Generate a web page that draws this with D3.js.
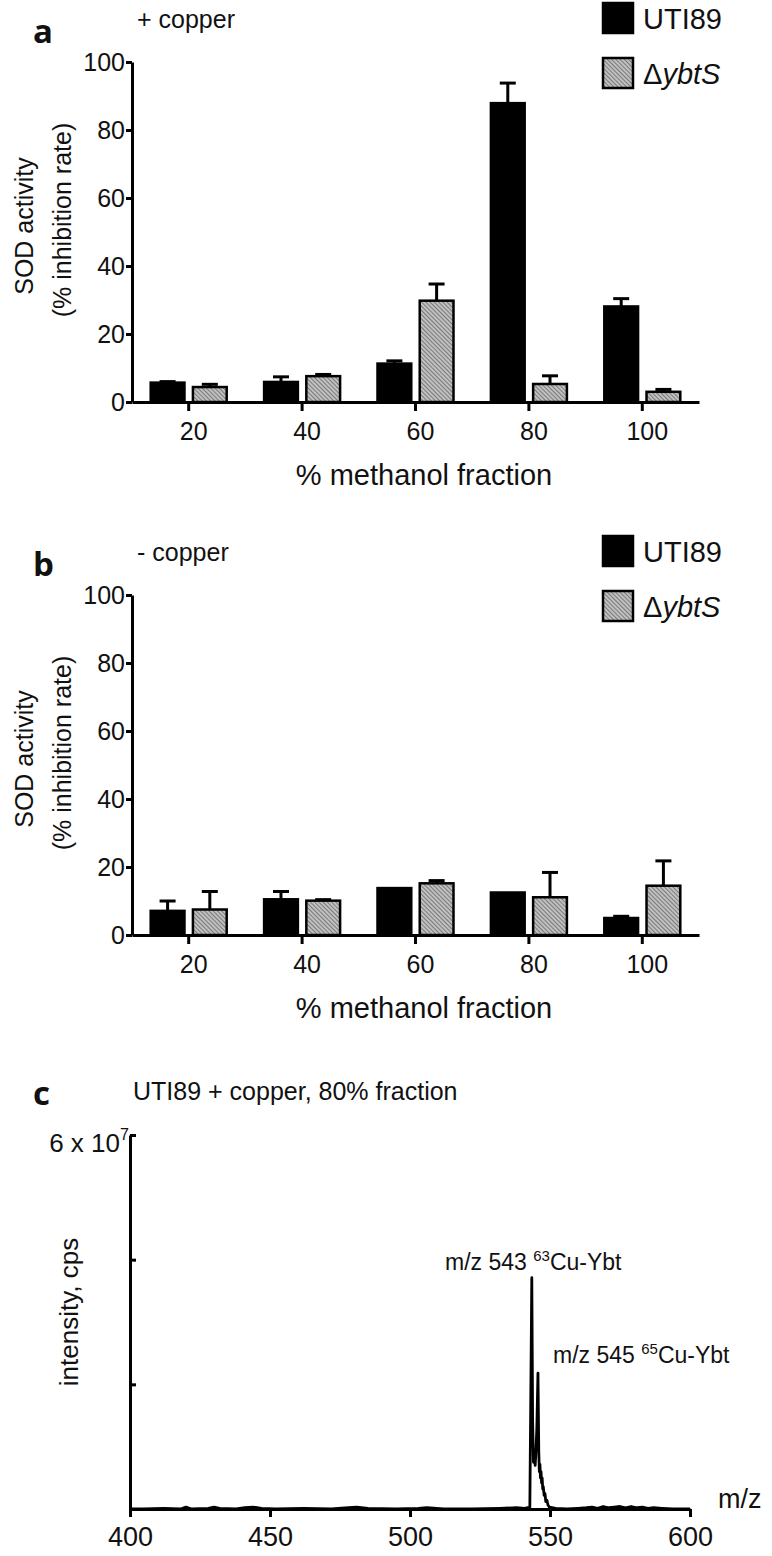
<!DOCTYPE html>
<html>
<head>
<meta charset="utf-8">
<script src="https://cdn.jsdelivr.net/npm/d3@7"></script>
<style>
  body { margin: 0; background: #fff; }
  text { font-family: "Liberation Sans", Arial, sans-serif; fill: #111; }
</style>
</head>
<body>
<script>
// data
var fractions = ['20', '40', '60', '80', '100'];
var strains = ['UTI89', 'ybtS'];

// panel a, + copper (% inhibition rate, mean and error)
var copperUTI89 = [5.7, 5.9, 11.3, 87.9, 28.1];
var copperUTI89Err = [0.3, 1.5, 0.8, 5.9, 2.3];
var copperYbtS = [4.4, 7.6, 29.8, 5.3, 3.0];
var copperYbtSErr = [0.8, 0.5, 4.9, 2.4, 0.7];

// panel b, - copper
var noCopperUTI89 = [7.1, 10.5, 13.8, 12.5, 5.0];
var noCopperUTI89Err = [2.9, 2.3, 0, 0, 0.5];
var noCopperYbtS = [7.5, 10.1, 15.2, 11.1, 14.5];
var noCopperYbtSErr = [5.3, 0.3, 0.8, 7.3, 7.3];

var yTicks = [0, 20, 40, 60, 80, 100];

// panel c, mass spectrum (intensity in units of 10^7 cps)
var spectrumMz = [400, 405, 412, 418, 420, 422, 428, 430, 432, 438, 441, 444, 447, 452, 462, 472, 478, 481, 485, 495, 503, 506, 512, 522, 532, 538, 541,
  542.8, 543.1, 543.5, 543.8, 544.1, 544.4, 544.7, 545.0, 545.3, 545.7, 546.0, 546.2, 546.4, 546.6, 546.8, 547.0, 547.2, 547.4, 547.6, 547.9, 548.2, 548.5, 548.9, 549.3, 549.8,
  552, 556, 560, 563, 565, 567, 569, 571, 573, 575, 577, 579, 581, 583, 585, 587, 590, 594, 600];
var spectrumIntensity = [0.0, 0.0, 0.01, 0.0, 0.03, 0.0, 0.01, 0.03, 0.01, 0.0, 0.02, 0.03, 0.01, 0.0, 0.01, 0.0, 0.02, 0.03, 0.01, 0.0, 0.01, 0.02, 0.0, 0.0, 0.01, 0.02, 0.01,
  0.03, 1.6, 3.71, 1.4, 0.75, 0.9, 0.7, 0.95, 1.3, 2.18, 0.9, 0.6, 0.72, 0.5, 0.6, 0.42, 0.5, 0.32, 0.36, 0.22, 0.25, 0.12, 0.14, 0.06, 0.03,
  0.01, 0.0, 0.01, 0.02, 0.03, 0.01, 0.04, 0.02, 0.03, 0.04, 0.02, 0.04, 0.02, 0.03, 0.01, 0.02, 0.01, 0.0, 0.0];
var mzTicks = [400, 450, 500, 550, 600];
var intensityTicks = [0, 2, 4, 6];

var svg = d3.select('body').append('svg')
  .attr('width', 772)
  .attr('height', 1556);

// fine hatched fill for the ybtS bars
var pat = svg.append('defs').append('pattern')
  .attr('id', 'hatch')
  .attr('patternUnits', 'userSpaceOnUse')
  .attr('width', 3).attr('height', 3)
  .attr('patternTransform', 'rotate(-45)');
pat.append('rect').attr('width', 3).attr('height', 3).attr('fill', '#c0c0c0');
pat.append('line').attr('x1', 0).attr('y1', 0).attr('x2', 0).attr('y2', 3)
  .attr('stroke', '#4a4a4a').attr('stroke-width', 1.2);

var fillFor = { UTI89: '#000', ybtS: 'url(#hatch)' };

function barPanel(top, letter, condition, uti, utiErr, ybt, ybtErr) {
  var g = svg.append('g').attr('transform', 'translate(0,' + top + ')');

  var x = d3.scaleBand().domain(fractions).range([132, 699]);
  var xSub = d3.scaleBand().domain(strains).range([0, 76]).paddingInner(0.2);
  var y = d3.scaleLinear().domain([0, 100]).range([402, 62]);

  var rows = [];
  fractions.forEach(function(f, i) {
    rows.push({ f: f, s: 'UTI89', v: uti[i], e: utiErr[i] });
    rows.push({ f: f, s: 'ybtS', v: ybt[i], e: ybtErr[i] });
  });
  var off = function(d) { return x(d.f) + x.bandwidth() / 2 - 38 + xSub(d.s); };

  // error bars (up only)
  var eb = g.selectAll('.err').data(rows.filter(function(d) { return d.e > 0; }))
    .enter().append('g').attr('class', 'err')
    .attr('stroke', '#000').attr('stroke-width', 3);
  eb.append('line')
    .attr('x1', function(d) { return off(d) + xSub.bandwidth() / 2; })
    .attr('x2', function(d) { return off(d) + xSub.bandwidth() / 2; })
    .attr('y1', function(d) { return y(d.v); })
    .attr('y2', function(d) { return y(d.v + d.e); });
  eb.append('line')
    .attr('x1', function(d) { return off(d) + xSub.bandwidth() / 2 - 8; })
    .attr('x2', function(d) { return off(d) + xSub.bandwidth() / 2 + 8; })
    .attr('y1', function(d) { return y(d.v + d.e); })
    .attr('y2', function(d) { return y(d.v + d.e); });

  g.selectAll('.bar').data(rows).enter().append('rect')
    .attr('class', 'bar')
    .attr('x', off)
    .attr('width', xSub.bandwidth())
    .attr('y', function(d) { return y(d.v); })
    .attr('height', function(d) { return y(0) - y(d.v); })
    .attr('fill', function(d) { return fillFor[d.s]; })
    .attr('stroke', '#000')
    .attr('stroke-width', 2.5);

  var yAxis = g.append('g').attr('transform', 'translate(132,0)')
    .call(d3.axisLeft(y).tickValues(yTicks).tickSize(6).tickSizeOuter(0).tickPadding(1));
  var xAxis = g.append('g').attr('transform', 'translate(0,402)')
    .call(d3.axisBottom(x).tickSize(9).tickSizeOuter(0).tickPadding(11));
  [yAxis, xAxis].forEach(function(a) {
    a.selectAll('path, line').attr('stroke', '#000').attr('stroke-width', 3);
    a.selectAll('text').attr('font-size', 25).attr('fill', '#111')
      .style('font-family', '"Liberation Sans", Arial, sans-serif');
  });
  xAxis.selectAll('text').attr('dx', 5);

  g.append('text').attr('x', 424).attr('y', 485)
    .attr('text-anchor', 'middle').attr('font-size', 29)
    .text('% methanol fraction');

  g.append('text').attr('transform', 'translate(33,226) rotate(-90)')
    .attr('text-anchor', 'middle').attr('font-size', 25).text('SOD activity');
  g.append('text').attr('transform', 'translate(71,220) rotate(-90)')
    .attr('text-anchor', 'middle').attr('font-size', 25).text('(% inhibition rate)');

  g.append('text').attr('x', 33).attr('y', 43)
    .attr('font-size', 33).attr('font-weight', 'bold')
    .style('font-family', '"Open Sans", "Noto Sans", sans-serif')
    .text(letter);
  g.append('text').attr('x', 137).attr('y', 28).attr('font-size', 25).text(condition);

  // legend
  strains.forEach(function(s, i) {
    var ly = 3 + i * 55;
    g.append('rect').attr('x', 603).attr('y', ly).attr('width', 30).attr('height', 30)
      .attr('fill', fillFor[s]).attr('stroke', '#000').attr('stroke-width', 2.5);
    var t = g.append('text').attr('x', 643).attr('y', ly + 26).attr('font-size', 29);
    if (s === 'UTI89') {
      t.text('UTI89');
    } else {
      t.append('tspan').text('\u0394');
      t.append('tspan').attr('font-style', 'italic').text('ybtS');
    }
  });
}

barPanel(0, 'a', '+ copper', copperUTI89, copperUTI89Err, copperYbtS, copperYbtSErr);
barPanel(533, 'b', '- copper', noCopperUTI89, noCopperUTI89Err, noCopperYbtS, noCopperYbtSErr);

// panel c
var gc = svg.append('g');
var xm = d3.scaleLinear().domain([400, 600]).range([130, 690]);
var yi = d3.scaleLinear().domain([0, 6]).range([1509, 1135]);

var spectrum = spectrumMz.map(function(m, i) { return [m, spectrumIntensity[i]]; });
gc.append('path').datum(spectrum)
  .attr('fill', 'none').attr('stroke', '#000').attr('stroke-width', 2.8)
  .attr('stroke-linejoin', 'round')
  .attr('d', d3.line().x(function(d) { return xm(d[0]); }).y(function(d) { return yi(d[1]); }));

var cx = gc.append('g').attr('transform', 'translate(0,1509)')
  .call(d3.axisBottom(xm).tickValues(mzTicks).tickSize(8).tickSizeOuter(0).tickPadding(10).tickFormat(d3.format('d')));
var cy = gc.append('g').attr('transform', 'translate(130,0)')
  .call(d3.axisRight(yi).tickValues(intensityTicks).tickSize(6).tickSizeOuter(0).tickFormat(''));
[cx, cy].forEach(function(a) {
  a.selectAll('path, line').attr('stroke', '#000').attr('stroke-width', 3);
});
cx.selectAll('text').attr('font-size', 27).attr('fill', '#111')
  .style('font-family', '"Liberation Sans", Arial, sans-serif');

gc.append('text').attr('x', 120).attr('y', 1152)
  .attr('text-anchor', 'end').attr('font-size', 26).text('6 x 10');
gc.append('text').attr('x', 120).attr('y', 1140).attr('font-size', 16).text('7');

gc.append('text').attr('transform', 'translate(78,1312) rotate(-90)')
  .attr('text-anchor', 'middle').attr('font-size', 26).text('intensity, cps');
gc.append('text').attr('x', 718).attr('y', 1508).attr('font-size', 27).text('m/z');

gc.append('text').attr('x', 33).attr('y', 1105)
  .attr('font-size', 33).attr('font-weight', 'bold')
  .style('font-family', '"Open Sans", "Noto Sans", sans-serif')
  .text('c');
gc.append('text').attr('x', 133).attr('y', 1100).attr('font-size', 25)
  .text('UTI89 + copper, 80% fraction');

function peakLabel(x0, y0, mass, iso) {
  var t = gc.append('text').attr('x', x0).attr('y', y0).attr('font-size', 23);
  t.append('tspan').text('m/z ' + mass + ' ');
  t.append('tspan').attr('font-size', 15).attr('dy', -9).text(iso);
  t.append('tspan').attr('dy', 9).text('Cu-Ybt');
}
peakLabel(445, 1270, 543, '63');
peakLabel(553, 1363, 545, '65');
</script>
</body>
</html>
